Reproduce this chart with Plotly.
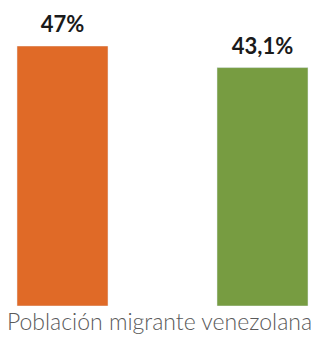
import plotly.graph_objects as go

categoria = ["Población migrante venezolana"]
serie_a = [47.0]
serie_b = [43.1]
etiquetas_a = ["47%"]
etiquetas_b = ["43,1%"]

colores = ["#E06A27", "#779C41"]
label_font = dict(family="Lato", size=22, color="#1a1a1a", weight="bold")

fig = go.Figure()
for nombre, valores, color in (("a", serie_a, colores[0]), ("b", serie_b, colores[1])):
    fig.add_trace(go.Bar(x=categoria, y=valores, marker_color=color, offsetgroup=nombre,
                         hoverinfo="skip"))
for nombre, valores, textos in (("a", serie_a, etiquetas_a), ("b", serie_b, etiquetas_b)):
    fig.add_trace(go.Scatter(x=categoria, y=valores, text=textos, mode="markers+text",
                             textposition="top center", offsetgroup=nombre,
                             marker=dict(size=12, opacity=0), cliponaxis=False,
                             textfont=label_font, hoverinfo="skip"))

fig.update_layout(
    width=319, height=341,
    margin=dict(l=6, r=0, t=46, b=35, autoexpand=False),
    barmode="group", bargap=0, bargroupgap=0.545,
    scattermode="group", scattergap=0,
    plot_bgcolor="white", paper_bgcolor="white",
    showlegend=False,
    xaxis=dict(range=[-0.39125, 0.39125], showgrid=False, zeroline=False, showline=False,
               automargin=False, ticks="", ticklabelshift=-3,
               tickfont=dict(family="Lato", size=23, color="#5a5a5a", weight=300)),
    yaxis=dict(range=[0, 47], visible=False, automargin=False),
)
fig.write_html("out.html", config={"displayModeBar": False},
               post_script="document.body.style.margin='0';")
